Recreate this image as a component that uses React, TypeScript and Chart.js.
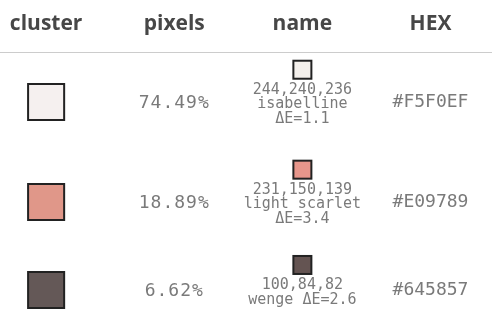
import React, { useEffect, useRef } from "react";
import { Chart, registerables } from "chart.js";

Chart.register(...registerables);

// ---- data ----
const headers = ["cluster", "pixels", "name", "HEX"];
const pixelShares = ["74.49%", "18.89%", "6.62%"];
const clusterHex = ["#F5F0EF", "#E09789", "#645857"];
const nearestRgb = [
  [244, 240, 236],
  [231, 150, 139],
  [100, 84, 82],
];
const colorNames = ["isabelline", "light scarlet", "wenge"];
const deltaE = ["1.1", "3.4", "2.6"];

// ---- derived table layout (row heights from the number of text lines) ----
const ROW_PAD = 1.2;
const nameLines: string[][] = nearestRgb.map((rgb, i) => {
  const combined = `${colorNames[i]} ΔE=${deltaE[i]}`;
  return combined.length <= 14
    ? [rgb.join(","), combined]
    : [rgb.join(","), colorNames[i], `ΔE=${deltaE[i]}`];
});
const rowCenters: number[] = (() => {
  const out: number[] = [];
  let acc = 0;
  nameLines.forEach((lines) => {
    const h = lines.length + ROW_PAD;
    out.push(acc + h / 2);
    acc += h;
  });
  return out;
})();

const MONO = '"DejaVu Sans Mono", monospace';
const TEXT_GRAY = "#7a7a7a";

const tablePlugin = {
  id: "tableText",
  afterDatasetsDraw(chart: any) {
    const ctx = chart.ctx;
    const xs = chart.scales.x;
    const ys = chart.scales.y;
    ctx.save();
    ctx.textAlign = "center";
    ctx.textBaseline = "middle";
    rowCenters.forEach((rv, i) => {
      const y = ys.getPixelForValue(rv);
      // pixels column
      ctx.font = `18px ${MONO}`;
      ctx.fillStyle = TEXT_GRAY;
      (ctx as any).letterSpacing = "1px";
      ctx.fillText(pixelShares[i], xs.getPixelForValue(1), y + 1);
      (ctx as any).letterSpacing = "0px";
      // HEX column
      ctx.fillText(clusterHex[i], xs.getPixelForValue(3), y);
      // name column: small swatch + lines
      const lines = nameLines[i];
      const sq = 18;
      const gap = 3;
      const lh = 14.5;
      const blockH = sq + gap + lines.length * lh;
      const cx = xs.getPixelForValue(2);
      const top = y - blockH / 2 - 9;
      const rgb = nearestRgb[i];
      ctx.fillStyle = `rgb(${rgb[0]},${rgb[1]},${rgb[2]})`;
      ctx.fillRect(cx - sq / 2, top, sq, sq);
      ctx.lineWidth = 2;
      ctx.strokeStyle = "#222";
      ctx.strokeRect(cx - sq / 2, top, sq, sq);
      ctx.font = `15px ${MONO}`;
      ctx.fillStyle = TEXT_GRAY;
      lines.forEach((t, k) => {
        ctx.fillText(t, cx, top + sq + gap + lh * k + lh / 2 + 1);
      });
    });
    ctx.restore();
  },
};

export default function App() {
  const ref = useRef<HTMLCanvasElement | null>(null);

  useEffect(() => {
    document.body.style.margin = "0";
    let chart: Chart | null = null;
    let cancelled = false;
    const fontsReady = Promise.all([
      document.fonts.load('bold 21px "Open Sans"'),
      document.fonts.load(`18px ${MONO}`),
    ]).catch(() => null);
    fontsReady.then(() => {
      if (cancelled || !ref.current) return;
      chart = new Chart(ref.current, {
        type: "scatter",
        data: {
          datasets: [
            {
              label: "cluster",
              data: rowCenters.map((v) => ({ x: 0, y: v })),
              pointStyle: "rect",
              pointRadius: 25.5,
              pointHoverRadius: 25.5,
              backgroundColor: clusterHex,
              borderColor: "#222",
              borderWidth: 2,
            },
          ],
        },
        options: {
          responsive: false,
          animation: false,
          events: [],
          layout: { padding: 0, autoPadding: false },
          plugins: { legend: { display: false }, tooltip: { enabled: false } },
          scales: {
            x: {
              type: "linear",
              position: "top",
              min: -0.36,
              max: 3.48,
              afterBuildTicks: (s: any) => {
                s.ticks = headers.map((_, i) => ({ value: i }));
              },
              afterFit: (s: any) => {
                s.height = 52;
                s.paddingLeft = 0;
                s.paddingRight = 0;
              },
              ticks: {
                callback: (v: any) => headers[v as number] ?? "",
                autoSkip: false,
                maxRotation: 0,
                padding: 15,
                color: "#474747",
                font: { family: '"Open Sans"', size: 21, weight: "bold" },
              },
              grid: { display: false, drawTicks: false },
              border: { display: true, color: "#cccccc", width: 1 },
            },
            y: {
              type: "linear",
              display: false,
              reverse: true,
              min: 0,
              max: 11.43,
            },
          },
        },
        plugins: [tablePlugin],
      });
    });
    return () => {
      cancelled = true;
      if (chart) chart.destroy();
    };
  }, []);

  return (
    <div style={{ width: 492, height: 324, background: "#fff" }}>
      <canvas ref={ref} width={492} height={324} />
    </div>
  );
}
